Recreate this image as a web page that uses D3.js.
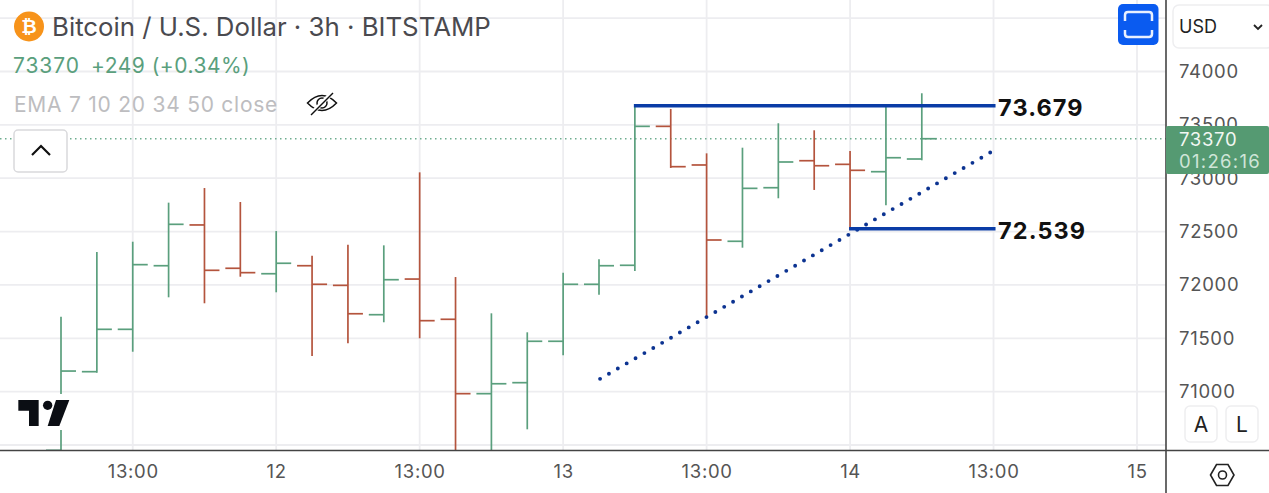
<!DOCTYPE html>
<html>
<head>
<meta charset="utf-8">
<script src="https://cdn.jsdelivr.net/npm/d3@7"></script>
<style>
  html, body { margin: 0; padding: 0; background: #fff; overflow: hidden; }
  svg { display: block; }
  text { font-family: Inter, "Noto Sans", sans-serif; }
  .axis path, .axis line { display: none; }
  .axis text { font-family: Inter, sans-serif; font-size: 18.5px; fill: #555; letter-spacing: 0.7px; }
</style>
</head>
<body>
<div id="chart"></div>
<script>
// bar index 0 is the first visible 3h bar
const barOpen = [70450, 71187, 71584, 72180, 72562, 72156, 72105, 72180, 71996, 71721, 72055, 71678, 70981, 71084, 71472, 72006, 72184, 73486, 73124, 72409, 72911, 73164, 73130, 73061, 73180];
const barHigh = [71702, 72309, 72405, 72771, 72908, 72777, 72505, 72274, 72377, 72371, 73055, 72074, 71734, 71556, 72115, 72240, 73679, 73649, 73233, 73286, 73515, 73449, 73255, 73679, 73796];
const barLow = [70400, 71177, 71374, 71884, 71828, 72077, 71931, 71334, 71453, 71650, 71500, 70400, 70400, 70647, 71340, 71908, 72130, 73096, 71702, 72349, 72812, 72890, 72515, 72746, 73168];
const barClose = [71193, 71584, 72190, 72568, 72137, 72115, 72203, 72006, 71730, 72049, 71665, 70981, 71074, 71472, 72006, 72180, 73486, 73108, 72421, 72905, 73152, 73117, 73074, 73192, 73370];

const priceTicks = [74500, 74000, 73500, 73000, 72500, 72000, 71500, 71000, 70500];
const priceLabels = [74000, 73500, 73000, 72500, 72000, 71500, 71000];
const timeTicks = [2, 6, 10, 14, 18, 22, 26, 30];
const timeLabels = ['13:00', '12', '13:00', '13', '13:00', '14', '13:00', '15'];

const lastPrice = 73370;
const levelStart = [16, 22];
const levelPrice = [73679, 72527];
const levelLabel = ['73.679', '72.539'];
const trendIdx = [15.03, 25.92];
const trendPrice = [71120, 73243];

const green = '#5a9f7d';
const red = '#b4543d';
const blue = '#0a3ca6';

const svg = d3.select('#chart')
  .append('svg')
  .attr('width', 1269)
  .attr('height', 493);

const xscale = d3.scaleLinear().domain([0, 30]).range([61, 1137]);
const yscale = d3.scaleLinear().domain([74000, 70500]).range([71.5, 445]);

// grid
svg.selectAll('.hgrid')
  .data(priceTicks)
  .enter()
  .append('line')
  .attr('x1', 0)
  .attr('x2', 1166)
  .attr('y1', d => yscale(d))
  .attr('y2', d => yscale(d))
  .attr('stroke', '#ededf0')
  .attr('stroke-width', 1.8);
svg.selectAll('.vgrid')
  .data(timeTicks)
  .enter()
  .append('line')
  .attr('x1', d => xscale(d))
  .attr('x2', d => xscale(d))
  .attr('y1', 0)
  .attr('y2', 450)
  .attr('stroke', '#ededf0')
  .attr('stroke-width', 1.8);

// last price line
svg.append('line')
  .attr('x1', 0)
  .attr('x2', 1166)
  .attr('y1', yscale(lastPrice))
  .attr('y2', yscale(lastPrice))
  .attr('stroke', '#6fae90')
  .attr('stroke-width', 1.4)
  .attr('stroke-dasharray', '1.5 3.5');

svg.append('clipPath')
  .attr('id', 'plot')
  .append('rect')
  .attr('width', 1166)
  .attr('height', 450);

const plot = svg.append('g').attr('clip-path', 'url(#plot)');

// OHLC bars
const bar = plot.selectAll('.bar')
  .data(barOpen.map((d, i) => i))
  .enter()
  .append('g')
  .attr('class', 'bar')
  .attr('stroke', i => (barClose[i] >= barOpen[i] ? green : red))
  .attr('stroke-width', 1.7)
  .attr('fill', 'none');
bar.append('line')
  .attr('x1', i => xscale(i))
  .attr('x2', i => xscale(i))
  .attr('y1', i => yscale(barHigh[i]))
  .attr('y2', i => yscale(barLow[i]));
bar.append('line')
  .attr('x1', i => xscale(i) - 15)
  .attr('x2', i => xscale(i))
  .attr('y1', i => yscale(barOpen[i]))
  .attr('y2', i => yscale(barOpen[i]));
bar.append('line')
  .attr('x1', i => xscale(i))
  .attr('x2', i => xscale(i) + 15)
  .attr('y1', i => yscale(barClose[i]))
  .attr('y2', i => yscale(barClose[i]));

// trend line
svg.append('path')
  .attr('d', d3.line().x(d => xscale(d)).y((d, i) => yscale(trendPrice[i]))(trendIdx))
  .attr('fill', 'none')
  .attr('stroke', '#0c3391')
  .attr('stroke-width', 3.9)
  .attr('stroke-linecap', 'round')
  .attr('stroke-dasharray', '0 10.25');

// horizontal levels
levelPrice.forEach((p, i) => {
  svg.append('line')
    .attr('x1', xscale(levelStart[i]) - 1)
    .attr('x2', xscale(26) + 2)
    .attr('y1', yscale(p))
    .attr('y2', yscale(p))
    .attr('stroke', blue)
    .attr('stroke-width', 3.4);
  svg.append('text')
    .attr('x', 998)
    .attr('y', yscale(p) + 10)
    .attr('font-size', 23.5)
    .attr('font-weight', 700)
    .attr('letter-spacing', 1.1)
    .attr('fill', '#111')
    .text(levelLabel[i]);
});

// tv logo
svg.append('rect').attr('x', 14).attr('y', 394).attr('width', 59).attr('height', 36).attr('fill', '#fff');
const logo = svg.append('g').attr('transform', 'translate(0,170) scale(0.3333)').attr('fill', '#0b0e14');
logo.append('path').attr('d', 'M55,690 H116 V768 H87 V722 H55 Z');
logo.append('circle').attr('cx', 143).attr('cy', 706).attr('r', 14);
logo.append('path').attr('d', 'M168,690 H208 L178,768 H143 Z');

// axes frame
svg.append('rect').attr('x', 1167).attr('width', 102).attr('height', 493).attr('fill', '#fff');
svg.append('rect').attr('y', 451).attr('width', 1269).attr('height', 42).attr('fill', '#fff');

const yaxis = d3.axisRight(yscale)
  .tickValues(priceLabels)
  .tickSize(0)
  .tickPadding(0)
  .tickFormat(d => String(d));
svg.append('g')
  .attr('class', 'axis')
  .attr('transform', 'translate(1179, 0)')
  .call(yaxis);

const xaxis = d3.axisBottom(xscale)
  .tickValues(timeTicks)
  .tickSize(0)
  .tickPadding(0)
  .tickFormat((d, i) => timeLabels[i]);
svg.append('g')
  .attr('class', 'axis')
  .attr('transform', 'translate(0, 465)')
  .call(xaxis);

svg.append('line').attr('x1', 0).attr('x2', 1269).attr('y1', 450.5).attr('y2', 450.5).attr('stroke', '#444').attr('stroke-width', 1.6);
svg.append('line').attr('x1', 1166).attr('x2', 1166).attr('y1', 0).attr('y2', 493).attr('stroke', '#444').attr('stroke-width', 1.6);

// last price tag
svg.append('rect')
  .attr('x', 1166).attr('y', 126).attr('width', 103).attr('height', 48).attr('rx', 2)
  .attr('fill', '#559a72');
svg.append('text').attr('x', 1179).attr('y', 145.5).attr('font-size', 18.5).attr('letter-spacing', 0.7).attr('fill', '#f2f7f3').text('73370');
svg.append('text').attr('x', 1179).attr('y', 167.5).attr('font-size', 18.5).attr('letter-spacing', 1.3).attr('fill', '#cfe5d8').text('01:26:16');

// header
svg.append('circle').attr('cx', 29).attr('cy', 26.5).attr('r', 15).attr('fill', '#f7931a');
svg.append('text').attr('x', 29).attr('y', 33).attr('text-anchor', 'middle').attr('font-size', 19).attr('font-weight', 700).attr('fill', '#fff').style('font-family', '"DejaVu Sans", sans-serif').text('₿');
svg.append('text').attr('x', 52).attr('y', 36).attr('font-size', 25.8).attr('fill', '#4a4a4f').text('Bitcoin / U.S. Dollar · 3h · BITSTAMP');
svg.append('text').attr('x', 13).attr('y', 73).attr('font-size', 21).attr('letter-spacing', 0.9).attr('fill', green).text('73370');
svg.append('text').attr('x', 91).attr('y', 73).attr('font-size', 21).attr('letter-spacing', 0.5).attr('fill', green).text('+249 (+0.34%)');
svg.append('text').attr('x', 14).attr('y', 112).attr('font-size', 21).attr('letter-spacing', 0.75).attr('fill', '#bdbdc0').text('EMA 7 10 20 34 50 close');

// eye off icon
const eye = svg.append('g').attr('transform', 'translate(322,103)').attr('fill', 'none').attr('stroke', '#111').attr('stroke-width', 1.5);
eye.append('path').attr('d', 'M-14.5,0 Q0,-15 14.5,0 Q0,15 -14.5,0 Z');
eye.append('circle').attr('r', 5);
eye.append('line').attr('x1', -11).attr('y1', 11).attr('x2', 11).attr('y2', -11).attr('stroke', '#fff').attr('stroke-width', 4.5);
eye.append('line').attr('x1', -11).attr('y1', 12).attr('x2', 11).attr('y2', -10);

// collapse button
svg.append('rect').attr('x', 14).attr('y', 130).attr('width', 53).attr('height', 42).attr('rx', 4).attr('fill', '#fff').attr('stroke', '#d9d9dc').attr('stroke-width', 1.5);
svg.append('path').attr('d', 'M32,155 L41,146 L50,155').attr('fill', 'none').attr('stroke', '#111').attr('stroke-width', 2.2);

// screenshot button
svg.append('rect').attr('x', 1118).attr('y', 4).attr('width', 40.5).attr('height', 41).attr('rx', 5).attr('fill', '#0a5bf0');
svg.append('path')
  .attr('d', 'M1125,21 V15 Q1125,12 1128,12 H1149 Q1152,12 1152,15 V21 M1125,30 V34 Q1125,37 1128,37 H1149 Q1152,37 1152,34 V30')
  .attr('fill', 'none').attr('stroke', '#e8f0ff').attr('stroke-width', 2.5);

// currency button
svg.append('rect').attr('x', 1173).attr('y', 5).attr('width', 100).attr('height', 43).attr('rx', 6).attr('fill', '#fff').attr('stroke', '#eeeef0').attr('stroke-width', 1.5);
svg.append('text').attr('x', 1179).attr('y', 33).attr('font-size', 18).attr('fill', '#222').text('USD');
svg.append('path').attr('d', 'M1254,25 L1258,29 L1262,25').attr('fill', 'none').attr('stroke', '#222').attr('stroke-width', 1.8);

// A / L buttons
[['A', 1185], ['L', 1226]].forEach(d => {
  svg.append('rect').attr('x', d[1]).attr('y', 406).attr('width', 32).attr('height', 36).attr('rx', 5).attr('fill', '#fff').attr('stroke', '#eeeef0').attr('stroke-width', 1.5);
  svg.append('text').attr('x', d[1] + 16).attr('y', 432).attr('text-anchor', 'middle').attr('font-size', 21).attr('fill', '#222').text(d[0]);
});

// settings hexagon
svg.append('path').attr('d', 'M1210.5,475 L1216.5,464.5 L1228,464.5 L1234,475 L1228,485.5 L1216.5,485.5 Z').attr('fill', 'none').attr('stroke', '#222').attr('stroke-width', 1.6);
svg.append('circle').attr('cx', 1222.5).attr('cy', 475).attr('r', 4).attr('fill', 'none').attr('stroke', '#222').attr('stroke-width', 1.6);
</script>
</body>
</html>
